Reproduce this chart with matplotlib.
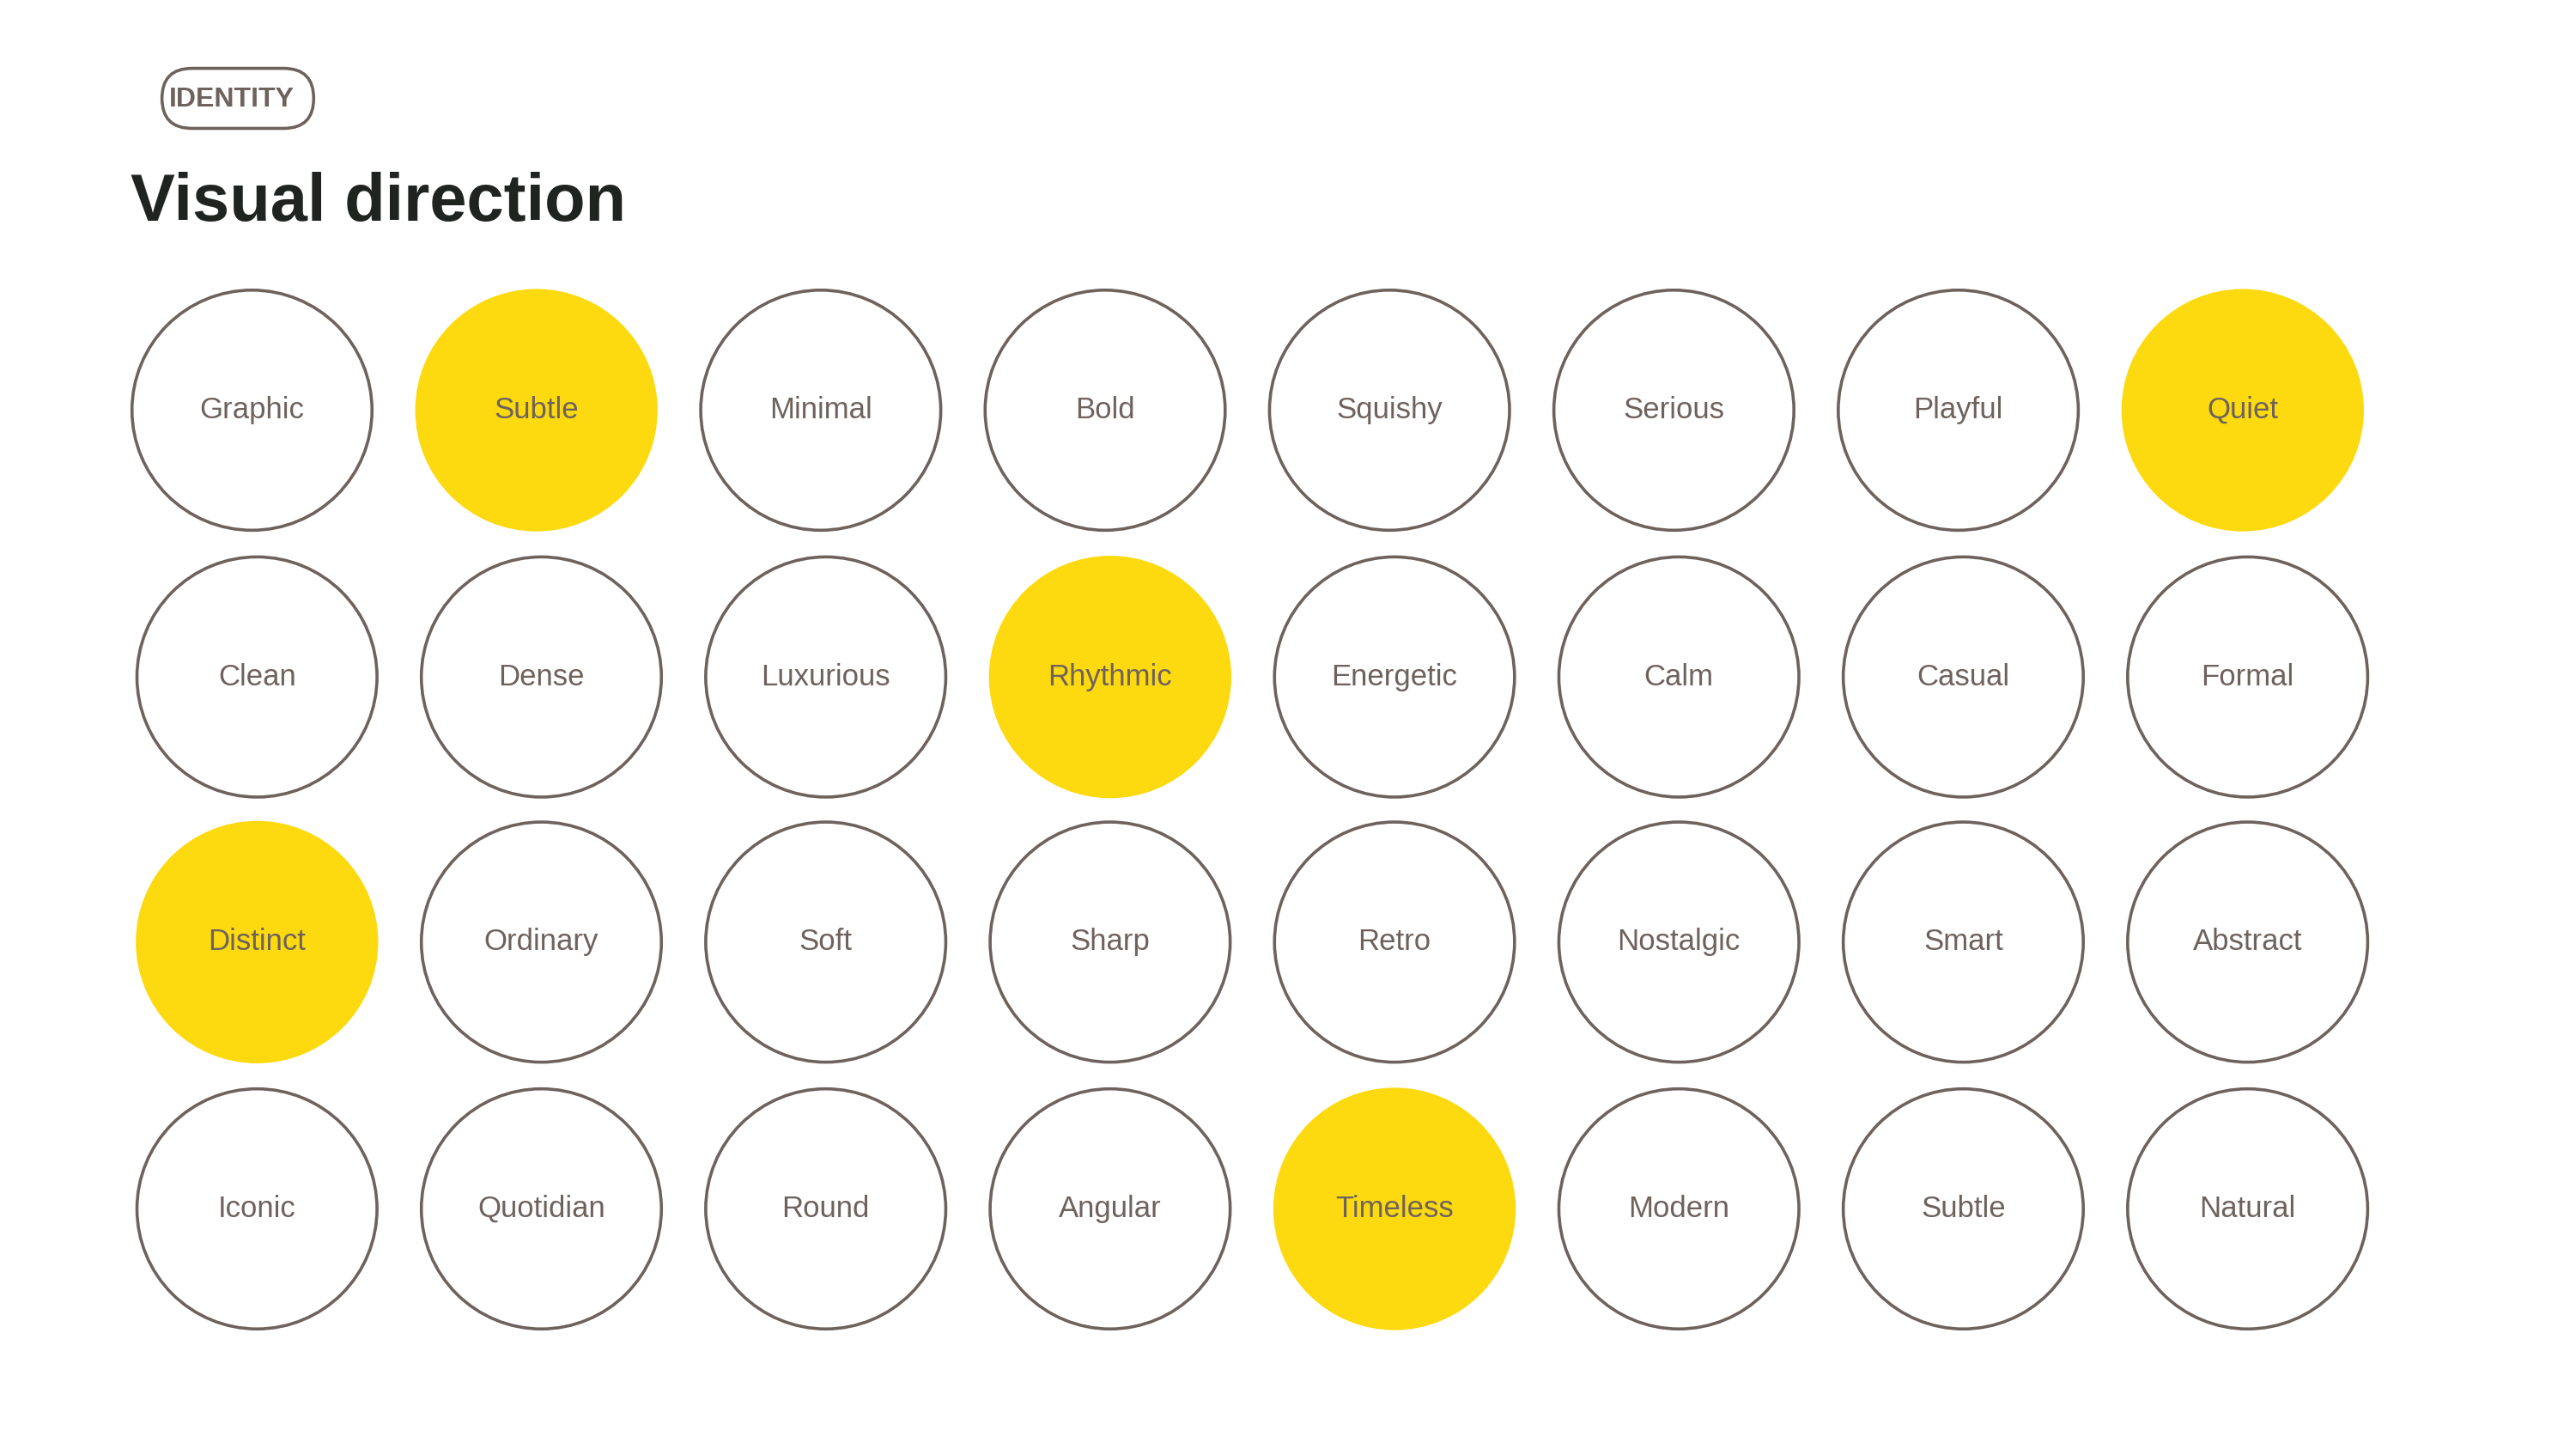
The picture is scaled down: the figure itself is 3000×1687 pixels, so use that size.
import matplotlib
matplotlib.use("Agg")
import matplotlib.pyplot as plt
from matplotlib.patches import Circle, FancyBboxPatch

labels = [
    ["Graphic", "Subtle", "Minimal", "Bold", "Squishy", "Serious", "Playful", "Quiet"],
    ["Clean", "Dense", "Luxurious", "Rhythmic", "Energetic", "Calm", "Casual", "Formal"],
    ["Distinct", "Ordinary", "Soft", "Sharp", "Retro", "Nostalgic", "Smart", "Abstract"],
    ["Iconic", "Quotidian", "Round", "Angular", "Timeless", "Modern", "Subtle", "Natural"],
]
selected = [
    [0, 1, 0, 0, 0, 0, 0, 1],
    [0, 0, 0, 1, 0, 0, 0, 0],
    [1, 0, 0, 0, 0, 0, 0, 0],
    [0, 0, 0, 0, 1, 0, 0, 0],
]
row_y = [246, 406, 565, 725]
row_x0 = [151, 154, 154, 154]
step = 170.6
R = 72

plt.rcParams['font.family'] = ['Liberation Sans', 'DejaVu Sans']
fig = plt.figure(figsize=(30, 16.87), dpi=100)
ax = fig.add_axes([0, 0, 1, 1])
ax.set_xlim(0, 1545)
ax.set_ylim(869, 0)
ax.set_aspect('equal')
ax.axis('off')

edge = '#6e625d'
yellow = '#fdd90f'
for r, row in enumerate(labels):
    for c, lab in enumerate(row):
        x = row_x0[r] + c * step
        y = row_y[r]
        if selected[r][c]:
            ax.add_patch(Circle((x, y), R + 0.7, facecolor=yellow, edgecolor='none'))
        else:
            ax.add_patch(Circle((x, y), R, facecolor='white', edgecolor=edge, linewidth=2.6))
        ax.text(x, y, lab, ha='center', va='center', fontsize=25, color=edge)

ax.add_patch(FancyBboxPatch((97, 41), 91, 36, boxstyle="round,pad=0,rounding_size=18",
                            facecolor='white', edgecolor=edge, linewidth=2.6))
ax.text(139, 59.5, "IDENTITY", ha='center', va='center', fontsize=23, fontweight='bold', color=edge)
ax.text(78, 122, "Visual direction", ha='left', va='center', fontsize=56, fontweight='bold', color='#1f2421')

fig.savefig("out.png", dpi=100)
